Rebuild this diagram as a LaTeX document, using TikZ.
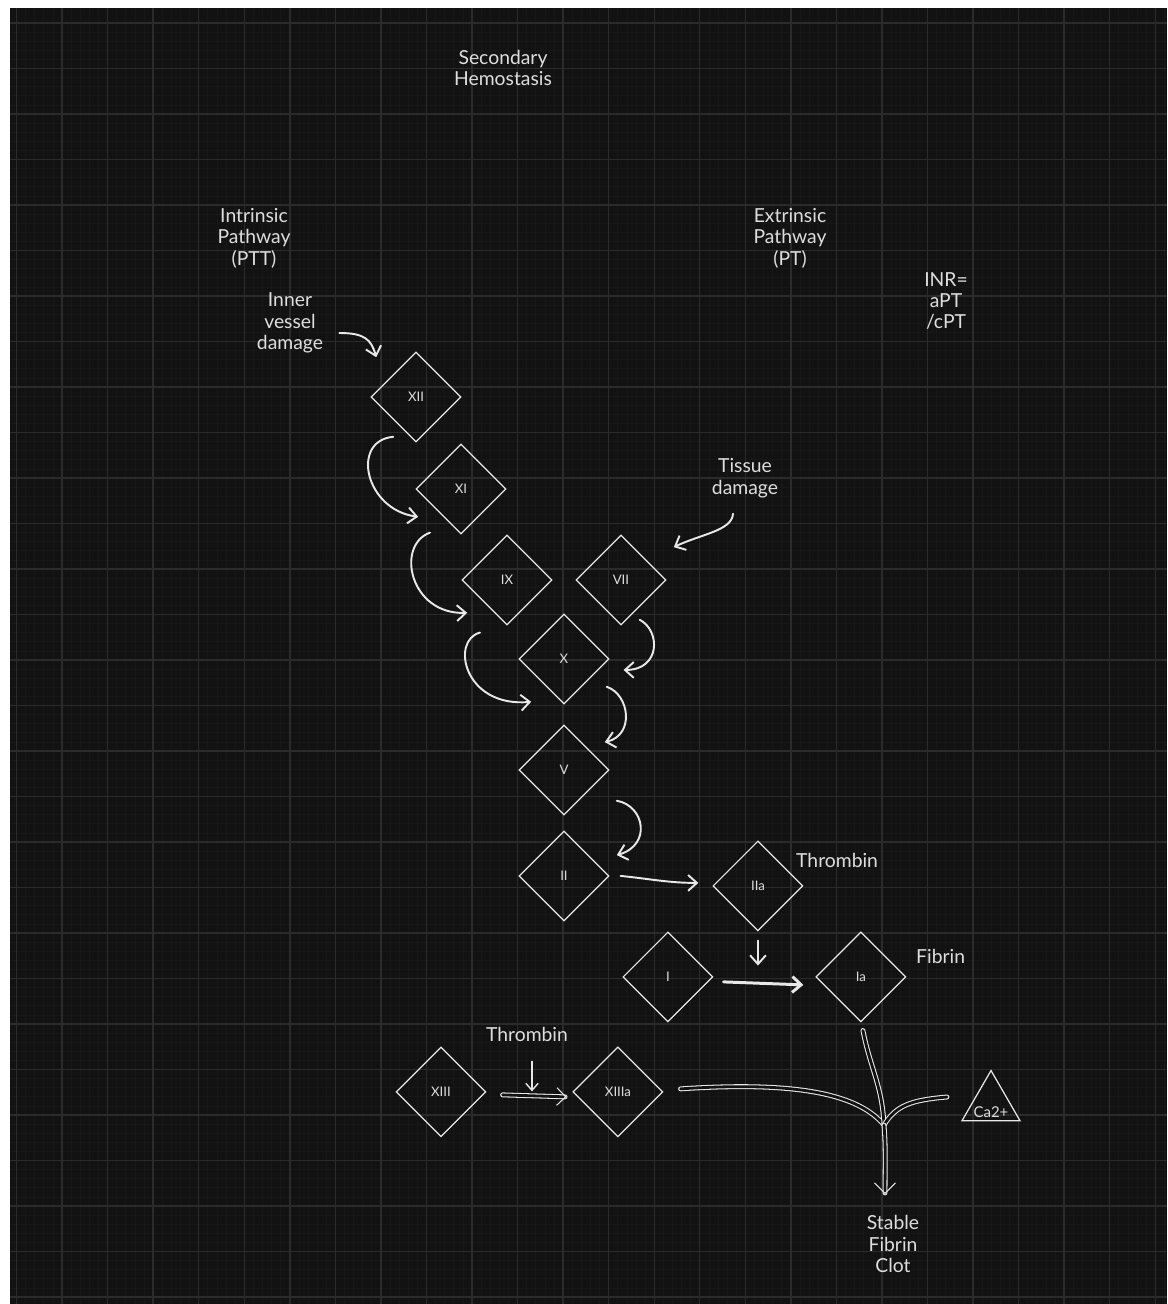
\documentclass[tikz,border=0pt]{standalone}
\usepackage{fontspec}
\setmainfont{Lato}
\usetikzlibrary{arrows.meta, positioning, shapes.geometric, calc}
\definecolor{bg}{HTML}{121212}
\definecolor{gridmaj}{HTML}{2B2B2B}
\definecolor{gridmin}{HTML}{171717}
\definecolor{ink}{HTML}{E8E8E8}
\definecolor{txt}{HTML}{DEDEDE}

\begin{document}
\begin{tikzpicture}[x=0.02cm, y=-0.02cm, font=\fontsize{11}{12.2}\selectfont, text=txt]
    \tikzstyle{fac} = [diamond, draw=ink, line width=0.7pt, minimum size=1.8cm,
        inner sep=0pt, font=\fontsize{7.5}{9}\selectfont]
    \tikzstyle{lbl} = [align=center]
    \tikzstyle{flow} = [draw=ink, line width=1.1pt, line cap=round,
        -{Straight Barb[length=5pt,width=9pt]}]
    \tikzstyle{heavy} = [draw=ink, line width=0.6pt, double=bg,
        double distance=1.6pt, line cap=round]

    % page and grid
    \useasboundingbox (0,0) rectangle (1167,1304);
    \fill [white] (0,0) rectangle (1167,1304);
    \fill [bg] (10,8) rectangle (1167,1304);
    \foreach \k in {0,...,127}
        \draw [gridmin, line width=0.4pt] ({16.5+9.11*\k},8) -- ({16.5+9.11*\k},1304);
    \foreach \k in {0,...,141}
        \draw [gridmin, line width=0.4pt] (10,{23+9.1*\k}) -- (1167,{23+9.1*\k});
    \foreach \k in {0,...,25}
        \draw [gridmaj, line width=0.8pt] ({16.5+45.55*\k},8) -- ({16.5+45.55*\k},1304);
    \foreach \k in {0,...,28}
        \draw [gridmaj, line width=0.8pt] (10,{23+45.5*\k}) -- (1167,{23+45.5*\k});

    % labels
    \node [lbl] (title) at (503,68) {Secondary\\Hemostasis};
    \node [lbl] (intr) at (254,238) {Intrinsic\\Pathway\\(PTT)};
    \node [lbl] (extr) at (790,238) {Extrinsic\\Pathway\\(PT)};
    \node [lbl] (inr) at (946,301) {INR=\\aPT\\/cPT};
    \node [lbl] (innerdmg) at (290,323) {Inner\\vessel\\damage};
    \node [lbl] (tissue) at (745,478) {Tissue\\damage};

    % factors
    \node [fac] (XII) at (416,397) {XII};
    \node [fac, below of=XII, node distance=1.84cm, xshift=0.9cm] (XI) {XI};
    \node [fac, below of=XI, node distance=1.82cm, xshift=0.92cm] (IX) {IX};
    \node [fac, right of=IX, node distance=2.28cm] (VII) {VII};
    \node [fac, below of=IX, node distance=1.58cm, xshift=1.14cm] (X) {X};
    \node [fac, below of=X, node distance=2.22cm] (V) {V};
    \node [fac, below of=V, node distance=2.12cm] (II) {II};
    \node [fac, right of=II, node distance=3.88cm, yshift=-0.2cm] (IIa) {IIa};
    \node [fac, below of=IIa, node distance=1.82cm, xshift=2.06cm] (Ia) {Ia};
    \node [fac, left of=Ia, node distance=3.86cm] (I) {I};
    \node [fac, below of=II, node distance=4.32cm, xshift=1.08cm] (XIIIa) {XIIIa};
    \node [fac, left of=XIIIa, node distance=3.54cm] (XIII) {XIII};
    \node [regular polygon, regular polygon sides=3, draw=ink, line width=0.7pt,
        minimum size=1.34cm, inner sep=0pt,
        label={[font=\fontsize{8.5}{9}\selectfont, yshift=-4.6pt]center:Ca2+}] (Ca) at (991,1104) {};
    \node [lbl, anchor=west] (thrA) at (790,860) {Thrombin};
    \node [lbl, anchor=west] (fib) at (910,956) {Fibrin};
    \node [lbl] (thrB) at (527,1034) {Thrombin};
    \node [lbl] (clot) at (893,1244) {Stable\\Fibrin\\Clot};

    % cascade
    \draw [flow] ($(innerdmg.east)+(10,10)$) .. controls +(25,0) and +(-5,-18) .. ($(XII.north west)+(-17,-17)$);
    \draw [flow] ($(XII.south west)+(0,17)$) .. controls +(-43,4) and +(-53,-7) .. ($(XI.south west)+(-20,5)$);
    \draw [flow] ($(XI.south)+(-31,-2)$) .. controls +(-35,13) and +(-57,2) .. ($(IX.south west)+(-17,10)$);
    \draw [flow] ($(IX.south)+(-27,7)$) .. controls +(-30,8) and +(-67,6) .. ($(X.south west)+(-10,20)$);
    \draw [flow] ($(tissue.south)+(-12,10)$) .. controls +(-1,17) and +(27,-13) .. ($(VII.north east)+(30,-10)$);
    \draw [flow] ($(VII.south east)+(-4,17)$) .. controls +(21,11) and +(37,0) .. ($(X.east)+(14,11)$);
    \draw [flow] ($(X.south east)+(20,5)$) .. controls +(23,8) and +(30,-7) .. ($(V.north east)+(18,-5)$);
    \draw [flow] ($(V.south east)+(30,8)$) .. controls +(28,5) and +(35,-10) .. ($(II.north east)+(30,2)$);
    \draw [flow] ($(II.east)+(11,0)$) .. controls +(30,3) and +(-30,0) .. ($(IIa.west)+(-14,-3)$);
    %
    \coordinate (thrAend) at ($(IIa.south)+(0,34)$);
    \draw [flow] ($(IIa.south)+(0,9)$) -- (thrAend);
    \draw [flow, line width=1.7pt] ($(I.east)+(10,5)$) -- ($(Ia.west)+(-12,8)$);
    \coordinate (thrBend) at ($(thrB.south)+(5,44)$);
    \draw [flow, line width=0.8pt, -{Straight Barb[length=4pt,width=7pt]}] ($(thrB.south)+(5,14)$) -- (thrBend);
    \draw [heavy, -{Straight Barb[length=5pt,width=10pt]}] ($(XIII.east)+(16,3)$) -- ($(XIIIa.west)+(-6,5)$);
    %
    \coordinate (jn) at (884,1125);
    \coordinate (clotend) at ($(clot.north)+(-8,-15)$);
    \draw [heavy] ($(XIIIa.east)+(17,-3)$) .. controls +(120,-8) and +(-25,-30) .. (jn);
    \draw [heavy] ($(Ia.south)+(2,8)$) .. controls +(8,40) and +(-2,-40) .. (jn);
    \draw [heavy] ($(Ca.west)+(-24,-7)$) .. controls +(-35,3) and +(12,-20) .. (jn);
    \draw [heavy, -{Straight Barb[length=6pt,width=12pt]}] (jn) .. controls +(2,25) and +(0,-25) .. (clotend);
\end{tikzpicture}
\end{document}
